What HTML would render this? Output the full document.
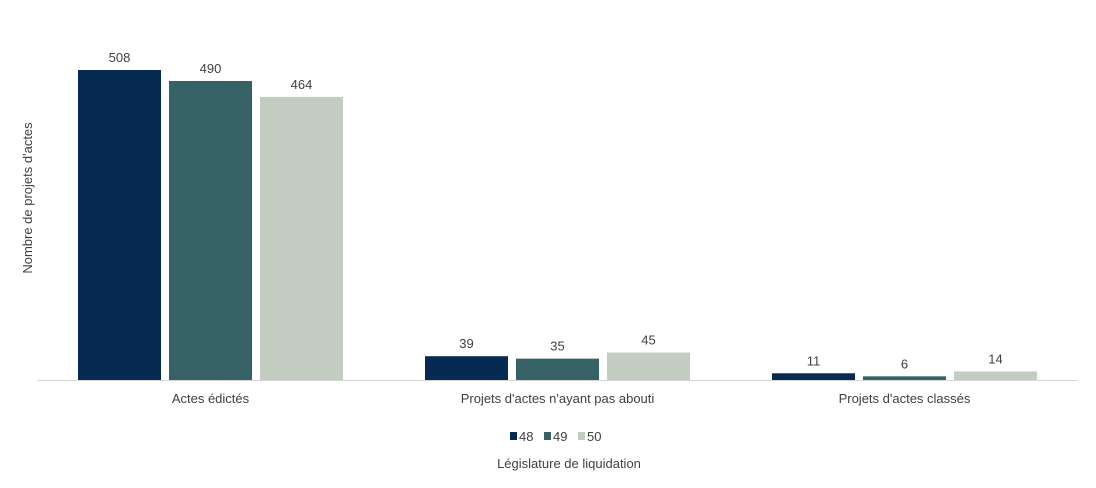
<!DOCTYPE html>
<html><head><meta charset="utf-8"><style>
html,body{margin:0;padding:0;background:#fff;width:1096px;height:488px;overflow:hidden}
svg text{font-family:"Liberation Sans",sans-serif;fill:#404040}
</style></head><body>
<svg id="chart" width="1096" height="488" xmlns="http://www.w3.org/2000/svg">
<line x1="37" y1="380.5" x2="1078" y2="380.5" stroke="#d9d9d9" stroke-width="1"/>
<text transform="translate(32,198) rotate(-90)" text-anchor="middle" font-size="13">Nombre de projets d'actes</text>
<text x="569" y="468" text-anchor="middle" font-size="13">Législature de liquidation</text>
<g id="bars"></g>
<g id="legend"></g>
</svg>
<script>
const categories = ["Actes édictés", "Projets d'actes n'ayant pas abouti", "Projets d'actes classés"];
const seriesNames = ["48", "49", "50"];
const s48 = [508, 39, 11];
const s49 = [490, 35, 6];
const s50 = [464, 45, 14];
const series = [s48, s49, s50];
const colors = ["#062a52", "#366266", "#c2ccc1"];
const NS = "http://www.w3.org/2000/svg";
const baseY = 380, pxPerUnit = 310 / 508;
const yScale = v => baseY - v * pxPerUnit;
const groupStart = i => 78 + i * 347;
const barW = 83, barStep = 91;
const bars = document.getElementById('bars');
categories.forEach((c, ci) => {
  series.forEach((s, si) => {
    const x = groupStart(ci) + si * barStep;
    const y = yScale(s[ci]);
    const r = document.createElementNS(NS, 'rect');
    
    
    r.setAttribute('x', x); r.setAttribute('y', y);
    r.setAttribute('width', barW); r.setAttribute('height', baseY - y);
    r.setAttribute('fill', colors[si]);
    bars.appendChild(r);
    const t = document.createElementNS(NS, 'text');
    
    
    t.setAttribute('x', x + barW / 2); t.setAttribute('y', y - 8);
    t.setAttribute('text-anchor', 'middle'); t.setAttribute('font-size', '13');
    t.textContent = s[ci];
    bars.appendChild(t);
  });
  const lt = document.createElementNS(NS, 'text');
  
  
  lt.setAttribute('x', groupStart(ci) + barStep + barW / 2); lt.setAttribute('y', 403);
  lt.setAttribute('text-anchor', 'middle'); lt.setAttribute('font-size', '13');
  lt.textContent = c;
  bars.appendChild(lt);
});
const legend = document.getElementById('legend');
seriesNames.forEach((n, i) => {
  const x = 510 + i * 34;
  const r = document.createElementNS(NS, 'rect');
  
  
  r.setAttribute('x', x); r.setAttribute('y', 432);
  r.setAttribute('width', 7); r.setAttribute('height', 8);
  r.setAttribute('fill', colors[i]);
  legend.appendChild(r);
  const t = document.createElementNS(NS, 'text');
  
  
  t.setAttribute('x', x + 9); t.setAttribute('y', 441);
  t.setAttribute('font-size', '13');
  t.textContent = n;
  legend.appendChild(t);
});
</script>
</body></html>
